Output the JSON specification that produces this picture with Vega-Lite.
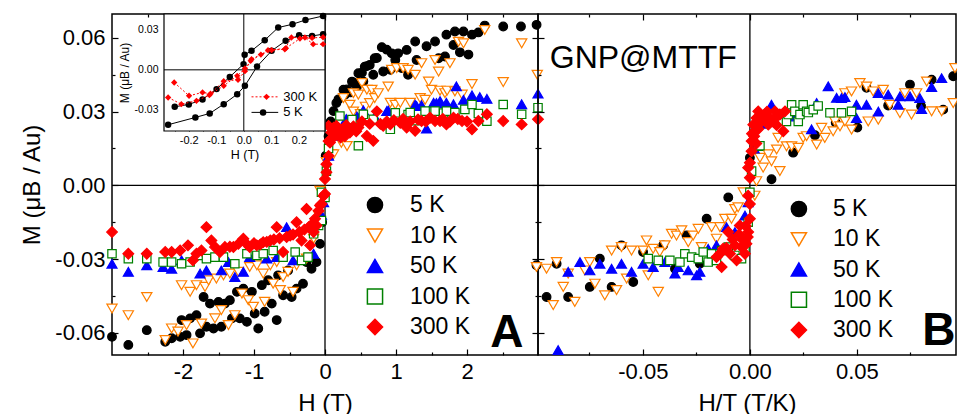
{
"$schema": "https://vega.github.io/schema/vega-lite/v6.json",
"background": "white",
"padding": {"left": 20, "top": 12, "right": 0, "bottom": 0},
"bounds": "flush",
"spacing": 0,
"config": {
 "font": "Liberation Sans",
 "view": {"stroke": "black", "strokeWidth": 1.5},
 "axis": {"domain": false, "grid": false, "tickColor": "black", "tickWidth": 1.2, "labelColor": "black", "titleColor": "black", "labelFontSize": 22, "titleFontSize": 24, "titleFontWeight": "normal", "labelOverlap": false, "labelFlush": false, "minExtent": 0, "labelFont": "Liberation Sans", "titleFont": "Liberation Sans"}
},
"datasets": {
 "a": [
  {"T":"5 K","H":0.01,"M":0.012},{"T":"5 K","H":0.05,"M":0.02},{"T":"5 K","H":0.08,"M":0.026},{"T":"5 K","H":0.12,"M":0.0302},{"T":"5 K","H":0.16,"M":0.0335},{"T":"5 K","H":0.19,"M":0.035},{"T":"5 K","H":0.26,"M":0.0389},{"T":"5 K","H":0.31,"M":0.039},{"T":"5 K","H":0.38,"M":0.0422},{"T":"5 K","H":0.40,"M":0.0417},{"T":"5 K","H":0.47,"M":0.0456},{"T":"5 K","H":0.52,"M":0.0458},{"T":"5 K","H":0.56,"M":0.0483},{"T":"5 K","H":0.59,"M":0.0485},{"T":"5 K","H":0.63,"M":0.049},{"T":"5 K","H":0.70,"M":0.0517},{"T":"5 K","H":0.73,"M":0.0518},{"T":"5 K","H":0.80,"M":0.0562},{"T":"5 K","H":0.87,"M":0.0552},{"T":"5 K","H":0.94,"M":0.0537},{"T":"5 K","H":1.03,"M":0.0537},{"T":"5 K","H":1.15,"M":0.0551},{"T":"5 K","H":1.27,"M":0.0585},{"T":"5 K","H":1.43,"M":0.0566},{"T":"5 K","H":1.55,"M":0.0585},{"T":"5 K","H":1.71,"M":0.0613},{"T":"5 K","H":1.83,"M":0.0626},{"T":"5 K","H":1.95,"M":0.0626},{"T":"5 K","H":2.07,"M":0.0613},{"T":"5 K","H":2.16,"M":0.0622},{"T":"5 K","H":2.25,"M":0.065},{"T":"5 K","H":2.51,"M":0.0646},{"T":"5 K","H":2.76,"M":0.0646},{"T":"5 K","H":2.98,"M":0.0653},
  {"T":"5 K","H":0.28,"M":0.0369},{"T":"5 K","H":0.36,"M":0.0378},{"T":"5 K","H":0.45,"M":0.0402},{"T":"5 K","H":0.54,"M":0.0422},{"T":"5 K","H":0.68,"M":0.045},{"T":"5 K","H":0.82,"M":0.0463},{"T":"5 K","H":0.92,"M":0.047},{"T":"5 K","H":0.99,"M":0.051},{"T":"5 K","H":1.08,"M":0.0477},{"T":"5 K","H":1.17,"M":0.045},{"T":"5 K","H":1.29,"M":0.051},{"T":"5 K","H":1.60,"M":0.0517},{"T":"5 K","H":1.69,"M":0.0524},{"T":"5 K","H":1.81,"M":0.0571},{"T":"5 K","H":1.90,"M":0.0541},{"T":"5 K","H":2.02,"M":0.0532},
  {"T":"5 K","H":-0.04,"M":-0.015},{"T":"5 K","H":-0.07,"M":-0.0238},{"T":"5 K","H":-0.12,"M":-0.0312},{"T":"5 K","H":-0.19,"M":-0.0339},{"T":"5 K","H":-0.26,"M":-0.0312},{"T":"5 K","H":-0.31,"M":-0.04},{"T":"5 K","H":-0.40,"M":-0.042},{"T":"5 K","H":-0.47,"M":-0.0454},{"T":"5 K","H":-0.52,"M":-0.0346},{"T":"5 K","H":-0.59,"M":-0.0447},{"T":"5 K","H":-0.66,"M":-0.0366},{"T":"5 K","H":-0.68,"M":-0.0548},{"T":"5 K","H":-0.75,"M":-0.0481},{"T":"5 K","H":-0.80,"M":-0.0386},{"T":"5 K","H":-0.85,"M":-0.0514},{"T":"5 K","H":-0.89,"M":-0.0406},{"T":"5 K","H":-0.94,"M":-0.0582},{"T":"5 K","H":-0.99,"M":-0.0521},{"T":"5 K","H":-1.03,"M":-0.0433},{"T":"5 K","H":-1.10,"M":-0.0555},{"T":"5 K","H":-1.15,"M":-0.042},{"T":"5 K","H":-1.20,"M":-0.0541},{"T":"5 K","H":-1.24,"M":-0.0433},{"T":"5 K","H":-1.31,"M":-0.0541},{"T":"5 K","H":-1.34,"M":-0.0467},{"T":"5 K","H":-1.41,"M":-0.0481},{"T":"5 K","H":-1.46,"M":-0.0575},{"T":"5 K","H":-1.50,"M":-0.0474},{"T":"5 K","H":-1.57,"M":-0.0582},{"T":"5 K","H":-1.62,"M":-0.0481},{"T":"5 K","H":-1.67,"M":-0.0575},{"T":"5 K","H":-1.71,"M":-0.0454},{"T":"5 K","H":-1.76,"M":-0.0602},{"T":"5 K","H":-1.81,"M":-0.0528},{"T":"5 K","H":-1.90,"M":-0.0541},{"T":"5 K","H":-1.95,"M":-0.0609},{"T":"5 K","H":-2.02,"M":-0.0548},{"T":"5 K","H":-2.04,"M":-0.0616},{"T":"5 K","H":-2.16,"M":-0.0622},{"T":"5 K","H":-2.25,"M":-0.0636},{"T":"5 K","H":-2.51,"M":-0.0589},{"T":"5 K","H":-2.77,"M":-0.0649},{"T":"5 K","H":-3.0,"M":-0.0616},
  {"T":"10 K","H":0.02,"M":0.0095},{"T":"10 K","H":0.09,"M":0.0126},{"T":"10 K","H":0.12,"M":0.0126},{"T":"10 K","H":0.19,"M":0.0227},{"T":"10 K","H":0.23,"M":0.0173},{"T":"10 K","H":0.26,"M":0.0355},{"T":"10 K","H":0.31,"M":0.016},{"T":"10 K","H":0.35,"M":0.0328},{"T":"10 K","H":0.40,"M":0.0375},{"T":"10 K","H":0.40,"M":0.03},{"T":"10 K","H":0.47,"M":0.0369},{"T":"10 K","H":0.50,"M":0.029},{"T":"10 K","H":0.52,"M":0.0416},{"T":"10 K","H":0.57,"M":0.032},{"T":"10 K","H":0.59,"M":0.0389},{"T":"10 K","H":0.63,"M":0.0335},{"T":"10 K","H":0.66,"M":0.0389},{"T":"10 K","H":0.70,"M":0.0355},{"T":"10 K","H":0.75,"M":0.0375},{"T":"10 K","H":0.89,"M":0.0402},{"T":"10 K","H":0.92,"M":0.0336},{"T":"10 K","H":0.94,"M":0.047},{"T":"10 K","H":0.99,"M":0.0328},{"T":"10 K","H":1.01,"M":0.0477},{"T":"10 K","H":1.06,"M":0.0336},{"T":"10 K","H":1.10,"M":0.0477},{"T":"10 K","H":1.17,"M":0.047},{"T":"10 K","H":1.20,"M":0.0336},{"T":"10 K","H":1.27,"M":0.045},{"T":"10 K","H":1.34,"M":0.0355},{"T":"10 K","H":1.36,"M":0.0497},{"T":"10 K","H":1.41,"M":0.0348},{"T":"10 K","H":1.46,"M":0.0422},{"T":"10 K","H":1.50,"M":0.0389},{"T":"10 K","H":1.55,"M":0.051},{"T":"10 K","H":1.60,"M":0.0463},{"T":"10 K","H":1.62,"M":0.0385},{"T":"10 K","H":1.69,"M":0.0375},{"T":"10 K","H":1.72,"M":0.0385},{"T":"10 K","H":1.76,"M":0.0497},{"T":"10 K","H":1.83,"M":0.0382},{"T":"10 K","H":1.88,"M":0.0584},{"T":"10 K","H":1.93,"M":0.0369},{"T":"10 K","H":1.95,"M":0.0578},{"T":"10 K","H":2.07,"M":0.0412},{"T":"10 K","H":2.25,"M":0.0632},{"T":"10 K","H":2.51,"M":0.042},{"T":"10 K","H":2.77,"M":0.0578},{"T":"10 K","H":2.99,"M":0.045},
  {"T":"10 K","H":-3.0,"M":-0.0501},{"T":"10 K","H":-2.77,"M":-0.0528},{"T":"10 K","H":-2.51,"M":-0.0454},{"T":"10 K","H":-2.25,"M":-0.0629},{"T":"10 K","H":-2.16,"M":-0.0582},{"T":"10 K","H":-2.07,"M":-0.0595},{"T":"10 K","H":-2.02,"M":-0.0406},{"T":"10 K","H":-1.95,"M":-0.0568},{"T":"10 K","H":-1.90,"M":-0.0433},{"T":"10 K","H":-1.86,"M":-0.0643},{"T":"10 K","H":-1.81,"M":-0.0406},{"T":"10 K","H":-1.74,"M":-0.0562},{"T":"10 K","H":-1.69,"M":-0.0413},{"T":"10 K","H":-1.64,"M":-0.0386},{"T":"10 K","H":-1.55,"M":-0.0541},{"T":"10 K","H":-1.53,"M":-0.0379},{"T":"10 K","H":-1.46,"M":-0.0507},{"T":"10 K","H":-1.43,"M":-0.0366},{"T":"10 K","H":-1.36,"M":-0.0568},{"T":"10 K","H":-1.34,"M":-0.0359},{"T":"10 K","H":-1.27,"M":-0.0528},{"T":"10 K","H":-1.22,"M":-0.0352},{"T":"10 K","H":-1.17,"M":-0.044},{"T":"10 K","H":-1.08,"M":-0.0467},{"T":"10 K","H":-1.06,"M":-0.0332},{"T":"10 K","H":-1.01,"M":-0.0494},{"T":"10 K","H":-0.96,"M":-0.0325},{"T":"10 K","H":-0.87,"M":-0.0359},{"T":"10 K","H":-0.85,"M":-0.0474},{"T":"10 K","H":-0.77,"M":-0.0325},{"T":"10 K","H":-0.73,"M":-0.04},{"T":"10 K","H":-0.68,"M":-0.0312},{"T":"10 K","H":-0.63,"M":-0.0426},{"T":"10 K","H":-0.59,"M":-0.0373},{"T":"10 K","H":-0.52,"M":-0.0352},{"T":"10 K","H":-0.45,"M":-0.0433},{"T":"10 K","H":-0.40,"M":-0.0325},{"T":"10 K","H":-0.26,"M":-0.0298},{"T":"10 K","H":-0.16,"M":-0.0217},{"T":"10 K","H":-0.09,"M":-0.0123},{"T":"10 K","H":-0.07,"M":-0.0022},
  {"T":"50 K","H":0.05,"M":0.012},{"T":"50 K","H":0.14,"M":0.0207},{"T":"50 K","H":0.16,"M":0.0202},{"T":"50 K","H":0.3,"M":0.027},{"T":"50 K","H":0.45,"M":0.028},{"T":"50 K","H":0.54,"M":0.0305},{"T":"50 K","H":0.7,"M":0.028},{"T":"50 K","H":0.87,"M":0.0302},{"T":"50 K","H":0.89,"M":0.0304},{"T":"50 K","H":1.27,"M":0.0328},{"T":"50 K","H":1.29,"M":0.0323},{"T":"50 K","H":1.36,"M":0.0326},{"T":"50 K","H":1.43,"M":0.0231},{"T":"50 K","H":1.53,"M":0.0336},{"T":"50 K","H":1.57,"M":0.0335},{"T":"50 K","H":1.62,"M":0.0343},{"T":"50 K","H":1.71,"M":0.0336},{"T":"50 K","H":1.81,"M":0.033},{"T":"50 K","H":1.85,"M":0.0403},{"T":"50 K","H":1.95,"M":0.0348},{"T":"50 K","H":2.07,"M":0.0366},{"T":"50 K","H":2.18,"M":0.0359},{"T":"50 K","H":2.28,"M":0.0352},{"T":"50 K","H":2.77,"M":0.033},{"T":"50 K","H":3.0,"M":0.0373},
  {"T":"50 K","H":-3.0,"M":-0.0319},{"T":"50 K","H":-2.77,"M":-0.0352},{"T":"50 K","H":-2.51,"M":-0.0325},{"T":"50 K","H":-2.28,"M":-0.0332},{"T":"50 K","H":-2.16,"M":-0.0339},{"T":"50 K","H":-2.02,"M":-0.0305},{"T":"50 K","H":-1.76,"M":-0.0359},{"T":"50 K","H":-1.67,"M":-0.0346},{"T":"50 K","H":-1.46,"M":-0.0346},{"T":"50 K","H":-1.36,"M":-0.0312},{"T":"50 K","H":-1.27,"M":-0.0373},{"T":"50 K","H":-1.15,"M":-0.0352},{"T":"50 K","H":-1.06,"M":-0.0292},{"T":"50 K","H":-0.82,"M":-0.0298},{"T":"50 K","H":-0.68,"M":-0.0292},{"T":"50 K","H":-0.54,"M":-0.017},{"T":"50 K","H":-0.45,"M":-0.0305},{"T":"50 K","H":-0.16,"M":-0.0278},{"T":"50 K","H":-0.05,"M":-0.012},{"T":"50 K","H":-0.02,"M":-0.0069},
  {"T":"100 K","H":0.02,"M":0.0058},{"T":"100 K","H":0.05,"M":0.015},{"T":"100 K","H":0.21,"M":0.0282},{"T":"100 K","H":0.38,"M":0.0268},{"T":"100 K","H":0.47,"M":0.0161},{"T":"100 K","H":0.54,"M":0.0289},{"T":"100 K","H":0.68,"M":0.0269},{"T":"100 K","H":0.92,"M":0.0228},{"T":"100 K","H":0.99,"M":0.0295},{"T":"100 K","H":1.17,"M":0.0288},{"T":"100 K","H":1.20,"M":0.0296},{"T":"100 K","H":1.27,"M":0.0263},{"T":"100 K","H":1.41,"M":0.0302},{"T":"100 K","H":1.55,"M":0.0302},{"T":"100 K","H":1.67,"M":0.0294},{"T":"100 K","H":1.71,"M":0.0302},{"T":"100 K","H":1.83,"M":0.0296},{"T":"100 K","H":1.97,"M":0.0309},{"T":"100 K","H":2.07,"M":0.0329},{"T":"100 K","H":2.16,"M":0.0292},{"T":"100 K","H":2.28,"M":0.0261},{"T":"100 K","H":2.51,"M":0.0329},{"T":"100 K","H":2.77,"M":0.0289},{"T":"100 K","H":3.0,"M":0.0316},
  {"T":"100 K","H":-3.0,"M":-0.0278},{"T":"100 K","H":-2.77,"M":-0.0298},{"T":"100 K","H":-2.51,"M":-0.0298},{"T":"100 K","H":-2.28,"M":-0.0312},{"T":"100 K","H":-2.16,"M":-0.0312},{"T":"100 K","H":-2.02,"M":-0.0319},{"T":"100 K","H":-1.90,"M":-0.0312},{"T":"100 K","H":-1.78,"M":-0.0285},{"T":"100 K","H":-1.67,"M":-0.0298},{"T":"100 K","H":-1.55,"M":-0.0292},{"T":"100 K","H":-1.43,"M":-0.0292},{"T":"100 K","H":-1.27,"M":-0.0319},{"T":"100 K","H":-1.10,"M":-0.0278},{"T":"100 K","H":-0.96,"M":-0.0285},{"T":"100 K","H":-0.87,"M":-0.0278},{"T":"100 K","H":-0.73,"M":-0.0265},{"T":"100 K","H":-0.59,"M":-0.0292},{"T":"100 K","H":-0.42,"M":-0.0271},{"T":"100 K","H":-0.33,"M":-0.0305},{"T":"100 K","H":-0.24,"M":-0.0292},{"T":"100 K","H":-0.16,"M":-0.0197},{"T":"100 K","H":-0.09,"M":-0.0163},{"T":"100 K","H":-0.05,"M":-0.0143},{"T":"100 K","H":-0.05,"M":-0.0028},{"T":"100 K","H":0.0,"M":-0.0049},
  {"T":"300 K","H":0.0,"M":0.0026},{"T":"300 K","H":0.02,"M":0.0053},{"T":"300 K","H":0.02,"M":0.0086},{"T":"300 K","H":0.05,"M":0.012},{"T":"300 K","H":0.05,"M":0.018},{"T":"300 K","H":0.07,"M":0.0174},{"T":"300 K","H":0.05,"M":0.0242},{"T":"300 K","H":0.09,"M":0.0215},{"T":"300 K","H":0.1,"M":0.019},{"T":"300 K","H":0.12,"M":0.0234},{"T":"300 K","H":0.15,"M":0.0205},{"T":"300 K","H":0.16,"M":0.0242},{"T":"300 K","H":0.2,"M":0.022},{"T":"300 K","H":0.22,"M":0.0195},{"T":"300 K","H":0.26,"M":0.0228},{"T":"300 K","H":0.28,"M":0.02},{"T":"300 K","H":0.3,"M":0.0245},{"T":"300 K","H":0.33,"M":0.023},{"T":"300 K","H":0.35,"M":0.0215},{"T":"300 K","H":0.4,"M":0.024},{"T":"300 K","H":0.44,"M":0.022},{"T":"300 K","H":0.47,"M":0.0235},{"T":"300 K","H":0.52,"M":0.026},{"T":"300 K","H":0.59,"M":0.0201},{"T":"300 K","H":0.63,"M":0.025},{"T":"300 K","H":0.68,"M":0.0181},{"T":"300 K","H":0.73,"M":0.0301},{"T":"300 K","H":0.78,"M":0.025},{"T":"300 K","H":0.82,"M":0.0242},{"T":"300 K","H":0.87,"M":0.026},{"T":"300 K","H":0.92,"M":0.0248},{"T":"300 K","H":0.97,"M":0.0265},{"T":"300 K","H":1.06,"M":0.0255},{"T":"300 K","H":1.10,"M":0.027},{"T":"300 K","H":1.15,"M":0.0235},{"T":"300 K","H":1.2,"M":0.026},{"T":"300 K","H":1.27,"M":0.0222},{"T":"300 K","H":1.31,"M":0.0268},{"T":"300 K","H":1.36,"M":0.0262},{"T":"300 K","H":1.42,"M":0.026},{"T":"300 K","H":1.48,"M":0.0275},{"T":"300 K","H":1.55,"M":0.0262},{"T":"300 K","H":1.62,"M":0.0262},{"T":"300 K","H":1.66,"M":0.027},{"T":"300 K","H":1.71,"M":0.0248},{"T":"300 K","H":1.76,"M":0.026},{"T":"300 K","H":1.81,"M":0.0275},{"T":"300 K","H":1.87,"M":0.027},{"T":"300 K","H":1.93,"M":0.0262},{"T":"300 K","H":2.0,"M":0.026},{"T":"300 K","H":2.07,"M":0.0228},{"T":"300 K","H":2.16,"M":0.0262},{"T":"300 K","H":2.28,"M":0.0289},{"T":"300 K","H":2.51,"M":0.0262},{"T":"300 K","H":2.77,"M":0.0248},{"T":"300 K","H":3.0,"M":0.0269},
  {"T":"300 K","H":-3.0,"M":-0.019},{"T":"300 K","H":-2.77,"M":-0.0278},{"T":"300 K","H":-2.51,"M":-0.0278},{"T":"300 K","H":-2.25,"M":-0.0271},{"T":"300 K","H":-2.16,"M":-0.0271},{"T":"300 K","H":-2.04,"M":-0.0265},{"T":"300 K","H":-1.93,"M":-0.0244},{"T":"300 K","H":-1.86,"M":-0.0305},{"T":"300 K","H":-1.81,"M":-0.0278},{"T":"300 K","H":-1.74,"M":-0.0265},{"T":"300 K","H":-1.67,"M":-0.017},{"T":"300 K","H":-1.60,"M":-0.0224},{"T":"300 K","H":-1.55,"M":-0.0251},{"T":"300 K","H":-1.48,"M":-0.0271},{"T":"300 K","H":-1.41,"M":-0.0251},{"T":"300 K","H":-1.34,"M":-0.025},{"T":"300 K","H":-1.29,"M":-0.0251},{"T":"300 K","H":-1.22,"M":-0.0238},{"T":"300 K","H":-1.15,"M":-0.0217},{"T":"300 K","H":-1.10,"M":-0.024},{"T":"300 K","H":-1.06,"M":-0.0251},{"T":"300 K","H":-1.0,"M":-0.0235},{"T":"300 K","H":-0.96,"M":-0.0244},{"T":"300 K","H":-0.91,"M":-0.024},{"T":"300 K","H":-0.87,"M":-0.0231},{"T":"300 K","H":-0.82,"M":-0.023},{"T":"300 K","H":-0.77,"M":-0.0224},{"T":"300 K","H":-0.72,"M":-0.022},{"T":"300 K","H":-0.68,"M":-0.017},{"T":"300 K","H":-0.64,"M":-0.0215},{"T":"300 K","H":-0.59,"M":-0.0271},{"T":"300 K","H":-0.54,"M":-0.021},{"T":"300 K","H":-0.49,"M":-0.0204},{"T":"300 K","H":-0.45,"M":-0.02},{"T":"300 K","H":-0.40,"M":-0.015},{"T":"300 K","H":-0.36,"M":-0.019},{"T":"300 K","H":-0.33,"M":-0.0224},{"T":"300 K","H":-0.29,"M":-0.018},{"T":"300 K","H":-0.26,"M":-0.0096},{"T":"300 K","H":-0.23,"M":-0.017},{"T":"300 K","H":-0.21,"M":-0.0244},{"T":"300 K","H":-0.19,"M":-0.016},{"T":"300 K","H":-0.16,"M":-0.019},{"T":"300 K","H":-0.14,"M":-0.0136},{"T":"300 K","H":-0.12,"M":-0.0163},{"T":"300 K","H":-0.09,"M":-0.0103},{"T":"300 K","H":-0.07,"M":-0.0082},{"T":"300 K","H":-0.05,"M":-0.0076},{"T":"300 K","H":-0.02,"M":-0.0042},{"T":"300 K","H":0.0,"M":-0.0035}
 ],
 "b": [
  {"T":"5 K","H":0.0,"M":0.0112},{"T":"5 K","H":0.0101,"M":0.0025},{"T":"5 K","H":0.0202,"M":0.0133},{"T":"5 K","H":0.0304,"M":0.0204},{"T":"5 K","H":0.0401,"M":0.0255},{"T":"5 K","H":0.0502,"M":0.0235},{"T":"5 K","H":0.0545,"M":0.0397},{"T":"5 K","H":0.0646,"M":0.0325},{"T":"5 K","H":0.0748,"M":0.041},{"T":"5 K","H":0.080,"M":0.0322},{"T":"5 K","H":0.0849,"M":0.043},{"T":"5 K","H":0.0903,"M":0.0308},{"T":"5 K","H":0.095,"M":0.0444},
  {"T":"5 K","H":-0.0997,"M":-0.0325},{"T":"5 K","H":-0.095,"M":-0.0454},{"T":"5 K","H":-0.0903,"M":-0.0319},{"T":"5 K","H":-0.0849,"M":-0.0454},{"T":"5 K","H":-0.0748,"M":-0.0413},{"T":"5 K","H":-0.0701,"M":-0.0298},{"T":"5 K","H":-0.0646,"M":-0.0413},{"T":"5 K","H":-0.06,"M":-0.0244},{"T":"5 K","H":-0.0545,"M":-0.0393},{"T":"5 K","H":-0.0499,"M":-0.0271},{"T":"5 K","H":-0.0405,"M":-0.0244},{"T":"5 K","H":-0.035,"M":-0.0339},{"T":"5 K","H":-0.0296,"M":-0.0204},{"T":"5 K","H":-0.0234,"M":-0.0319},{"T":"5 K","H":-0.0202,"M":-0.0136},{"T":"5 K","H":-0.0101,"M":-0.0049},
  {"T":"10 K","H":0.0031,"M":0.0017},{"T":"10 K","H":0.0023,"M":0.0153},{"T":"10 K","H":0.0047,"M":0.0112},{"T":"10 K","H":0.0062,"M":0.0072},{"T":"10 K","H":0.0086,"M":0.0126},{"T":"10 K","H":0.0101,"M":0.0098},{"T":"10 K","H":0.0125,"M":0.0146},{"T":"10 K","H":0.0132,"M":0.0193},{"T":"10 K","H":0.014,"M":0.0058},{"T":"10 K","H":0.0171,"M":0.0159},{"T":"10 K","H":0.0195,"M":0.0159},{"T":"10 K","H":0.0226,"M":0.0153},{"T":"10 K","H":0.0249,"M":0.0193},{"T":"10 K","H":0.0265,"M":0.02},{"T":"10 K","H":0.0312,"M":0.0166},{"T":"10 K","H":0.0335,"M":0.0234},{"T":"10 K","H":0.035,"M":0.0193},{"T":"10 K","H":0.0389,"M":0.022},{"T":"10 K","H":0.0397,"M":0.026},{"T":"10 K","H":0.0421,"M":0.024},{"T":"10 K","H":0.0444,"M":0.026},{"T":"10 K","H":0.0444,"M":0.0375},{"T":"10 K","H":0.0475,"M":0.0227},{"T":"10 K","H":0.0475,"M":0.0382},{"T":"10 K","H":0.0514,"M":0.0416},{"T":"10 K","H":0.0545,"M":0.0402},{"T":"10 K","H":0.0553,"M":0.026},{"T":"10 K","H":0.0576,"M":0.0382},{"T":"10 K","H":0.06,"M":0.0267},{"T":"10 K","H":0.0623,"M":0.0389},{"T":"10 K","H":0.0654,"M":0.0328},{"T":"10 K","H":0.0701,"M":0.0294},{"T":"10 K","H":0.0724,"M":0.0375},{"T":"10 K","H":0.0755,"M":0.0288},{"T":"10 K","H":0.0779,"M":0.0375},{"T":"10 K","H":0.0826,"M":0.0422},{"T":"10 K","H":0.0849,"M":0.0301},{"T":"10 K","H":0.0896,"M":0.0301},{"T":"10 K","H":0.095,"M":0.0335},{"T":"10 K","H":0.0958,"M":0.0477},
  {"T":"10 K","H":-0.0997,"M":-0.0332},{"T":"10 K","H":-0.095,"M":-0.0339},{"T":"10 K","H":-0.0919,"M":-0.0487},{"T":"10 K","H":-0.0903,"M":-0.0312},{"T":"10 K","H":-0.0872,"M":-0.0413},{"T":"10 K","H":-0.0849,"M":-0.0359},{"T":"10 K","H":-0.0818,"M":-0.0474},{"T":"10 K","H":-0.0771,"M":-0.0346},{"T":"10 K","H":-0.0748,"M":-0.0312},{"T":"10 K","H":-0.0724,"M":-0.04},{"T":"10 K","H":-0.0678,"M":-0.0447},{"T":"10 K","H":-0.0646,"M":-0.0265},{"T":"10 K","H":-0.0623,"M":-0.0426},{"T":"10 K","H":-0.06,"M":-0.0251},{"T":"10 K","H":-0.0576,"M":-0.0379},{"T":"10 K","H":-0.0553,"M":-0.0265},{"T":"10 K","H":-0.0499,"M":-0.0265},{"T":"10 K","H":-0.0483,"M":-0.0224},{"T":"10 K","H":-0.0475,"M":-0.0366},{"T":"10 K","H":-0.0452,"M":-0.0258},{"T":"10 K","H":-0.0428,"M":-0.0433},{"T":"10 K","H":-0.0421,"M":-0.0271},{"T":"10 K","H":-0.0397,"M":-0.0244},{"T":"10 K","H":-0.0366,"M":-0.0197},{"T":"10 K","H":-0.0343,"M":-0.0204},{"T":"10 K","H":-0.0319,"M":-0.0183},{"T":"10 K","H":-0.0288,"M":-0.0231},{"T":"10 K","H":-0.0265,"M":-0.0204},{"T":"10 K","H":-0.0241,"M":-0.0177},{"T":"10 K","H":-0.0226,"M":-0.0251},{"T":"10 K","H":-0.0179,"M":-0.017},{"T":"10 K","H":-0.0156,"M":-0.0217},{"T":"10 K","H":-0.014,"M":-0.017},{"T":"10 K","H":-0.0117,"M":-0.0136},{"T":"10 K","H":-0.0086,"M":-0.0136},{"T":"10 K","H":-0.007,"M":-0.0096},{"T":"10 K","H":-0.0055,"M":-0.0089},{"T":"10 K","H":-0.0031,"M":-0.0028},{"T":"10 K","H":0.0023,"M":-0.0042},
  {"T":"50 K","H":0.002,"M":0.015},{"T":"50 K","H":0.005,"M":0.025},{"T":"50 K","H":0.0101,"M":0.0328},{"T":"50 K","H":0.015,"M":0.029},{"T":"50 K","H":0.02,"M":0.028},{"T":"50 K","H":0.0257,"M":0.0301},{"T":"50 K","H":0.0288,"M":0.0228},{"T":"50 K","H":0.0312,"M":0.0335},{"T":"50 K","H":0.0366,"M":0.0403},{"T":"50 K","H":0.0405,"M":0.0356},{"T":"50 K","H":0.0428,"M":0.0355},{"T":"50 K","H":0.0444,"M":0.0359},{"T":"50 K","H":0.0498,"M":0.0328},{"T":"50 K","H":0.0498,"M":0.0274},{"T":"50 K","H":0.0545,"M":0.0328},{"T":"50 K","H":0.06,"M":0.0375},{"T":"50 K","H":0.06,"M":0.03},{"T":"50 K","H":0.0646,"M":0.0369},{"T":"50 K","H":0.0693,"M":0.0328},{"T":"50 K","H":0.0701,"M":0.0362},{"T":"50 K","H":0.0748,"M":0.0362},{"T":"50 K","H":0.0794,"M":0.0355},{"T":"50 K","H":0.0802,"M":0.031},{"T":"50 K","H":0.0849,"M":0.04},{"T":"50 K","H":0.0896,"M":0.0436},
  {"T":"50 K","H":-0.0896,"M":-0.067},{"T":"50 K","H":-0.0849,"M":-0.0352},{"T":"50 K","H":-0.0794,"M":-0.0312},{"T":"50 K","H":-0.0748,"M":-0.0346},{"T":"50 K","H":-0.0701,"M":-0.0319},{"T":"50 K","H":-0.0646,"M":-0.0339},{"T":"50 K","H":-0.06,"M":-0.0319},{"T":"50 K","H":-0.0553,"M":-0.0352},{"T":"50 K","H":-0.0499,"M":-0.0319},{"T":"50 K","H":-0.0452,"M":-0.0332},{"T":"50 K","H":-0.0397,"M":-0.0312},{"T":"50 K","H":-0.035,"M":-0.0359},{"T":"50 K","H":-0.0335,"M":-0.0332},{"T":"50 K","H":-0.0288,"M":-0.0346},{"T":"50 K","H":-0.0249,"M":-0.0366},{"T":"50 K","H":-0.0234,"M":-0.0352},{"T":"50 K","H":-0.0195,"M":-0.0258},{"T":"50 K","H":-0.0156,"M":-0.0244},{"T":"50 K","H":-0.0109,"M":-0.017},{"T":"50 K","H":-0.007,"M":-0.019},{"T":"50 K","H":-0.0023,"M":-0.0123},{"T":"50 K","H":-0.0008,"M":-0.0069},
  {"T":"100 K","H":0.0008,"M":0.0058},{"T":"100 K","H":0.0039,"M":0.0159},{"T":"100 K","H":0.0047,"M":0.0161},{"T":"100 K","H":0.0171,"M":0.026},{"T":"100 K","H":0.0179,"M":0.0288},{"T":"100 K","H":0.0195,"M":0.0328},{"T":"100 K","H":0.021,"M":0.0301},{"T":"100 K","H":0.0226,"M":0.026},{"T":"100 K","H":0.0234,"M":0.0288},{"T":"100 K","H":0.0249,"M":0.0328},{"T":"100 K","H":0.0265,"M":0.0301},{"T":"100 K","H":0.0273,"M":0.0296},{"T":"100 K","H":0.0296,"M":0.0308},{"T":"100 K","H":0.0319,"M":0.0323},{"T":"100 K","H":0.0374,"M":0.0295},{"T":"100 K","H":0.0428,"M":0.0295},{"T":"100 K","H":0.0475,"M":0.0301},
  {"T":"100 K","H":-0.0475,"M":-0.0298},{"T":"100 K","H":-0.0428,"M":-0.0305},{"T":"100 K","H":-0.0374,"M":-0.0305},{"T":"100 K","H":-0.0327,"M":-0.0312},{"T":"100 K","H":-0.0304,"M":-0.0278},{"T":"100 K","H":-0.0272,"M":-0.0292},{"T":"100 K","H":-0.0241,"M":-0.0298},{"T":"100 K","H":-0.0218,"M":-0.0271},{"T":"100 K","H":-0.0195,"M":-0.0312},{"T":"100 K","H":-0.0179,"M":-0.0278},{"T":"100 K","H":-0.0156,"M":-0.0305},{"T":"100 K","H":-0.0132,"M":-0.0265},{"T":"100 K","H":-0.0101,"M":-0.0251},{"T":"100 K","H":-0.007,"M":-0.0285},{"T":"100 K","H":-0.0039,"M":-0.0298},{"T":"100 K","H":-0.0023,"M":-0.0258},{"T":"100 K","H":-0.0008,"M":-0.015},{"T":"100 K","H":0.0,"M":-0.0028},
  {"T":"300 K","H":0.0,"M":0.0031},{"T":"300 K","H":0.0,"M":0.0092},{"T":"300 K","H":-0.0008,"M":0.0072},{"T":"300 K","H":0.0008,"M":0.0139},{"T":"300 K","H":0.0008,"M":0.018},{"T":"300 K","H":0.001,"M":0.021},{"T":"300 K","H":0.0016,"M":0.0247},{"T":"300 K","H":0.002,"M":0.02},{"T":"300 K","H":0.0023,"M":0.022},{"T":"300 K","H":0.003,"M":0.017},{"T":"300 K","H":0.0031,"M":0.0274},{"T":"300 K","H":0.0039,"M":0.0301},{"T":"300 K","H":0.004,"M":0.023},{"T":"300 K","H":0.0055,"M":0.026},{"T":"300 K","H":0.006,"M":0.027},{"T":"300 K","H":0.007,"M":0.0288},{"T":"300 K","H":0.008,"M":0.03},{"T":"300 K","H":0.0086,"M":0.0247},{"T":"300 K","H":0.0093,"M":0.0274},{"T":"300 K","H":0.0109,"M":0.026},{"T":"300 K","H":0.0117,"M":0.0301},{"T":"300 K","H":0.012,"M":0.0275},{"T":"300 K","H":0.0125,"M":0.0245},{"T":"300 K","H":0.014,"M":0.0288},{"T":"300 K","H":0.0156,"M":0.022},{"T":"300 K","H":0.0164,"M":0.0301},
  {"T":"300 K","H":-0.0156,"M":-0.0292},{"T":"300 K","H":-0.014,"M":-0.0278},{"T":"300 K","H":-0.0132,"M":-0.0332},{"T":"300 K","H":-0.0125,"M":-0.0258},{"T":"300 K","H":-0.011,"M":-0.0255},{"T":"300 K","H":-0.0101,"M":-0.019},{"T":"300 K","H":-0.0093,"M":-0.0278},{"T":"300 K","H":-0.008,"M":-0.022},{"T":"300 K","H":-0.007,"M":-0.0244},{"T":"300 K","H":-0.0062,"M":-0.0305},{"T":"300 K","H":-0.005,"M":-0.02},{"T":"300 K","H":-0.0047,"M":-0.0163},{"T":"300 K","H":-0.0039,"M":-0.0251},{"T":"300 K","H":-0.0031,"M":-0.0224},{"T":"300 K","H":-0.0023,"M":-0.0278},{"T":"300 K","H":-0.002,"M":-0.0165},{"T":"300 K","H":-0.0016,"M":-0.0238},{"T":"300 K","H":-0.001,"M":-0.021},{"T":"300 K","H":-0.0008,"M":-0.019},{"T":"300 K","H":0.0,"M":-0.0136},{"T":"300 K","H":0.0,"M":-0.0076},{"T":"300 K","H":-0.0008,"M":-0.0042}
 ],
 "inset": [
  {"T":"5 K","b":"d","H":-0.251,"M":-0.0278},{"T":"5 K","b":"d","H":-0.2,"M":-0.026},{"T":"5 K","b":"d","H":-0.15,"M":-0.0223},{"T":"5 K","b":"d","H":-0.099,"M":-0.0145},{"T":"5 K","b":"d","H":-0.051,"M":-0.0053},{"T":"5 K","b":"d","H":-0.001,"M":0.0043},{"T":"5 K","b":"d","H":0.003,"M":0.0113},{"T":"5 K","b":"d","H":0.028,"M":0.0143},{"T":"5 K","b":"d","H":0.076,"M":0.0223},{"T":"5 K","b":"d","H":0.125,"M":0.0318},{"T":"5 K","b":"d","H":0.177,"M":0.0343},{"T":"5 K","b":"d","H":0.224,"M":0.0375},{"T":"5 K","b":"d","H":0.288,"M":0.0405},
  {"T":"5 K","b":"u","H":-0.275,"M":-0.0413},{"T":"5 K","b":"u","H":-0.176,"M":-0.0358},{"T":"5 K","b":"u","H":-0.124,"M":-0.0328},{"T":"5 K","b":"u","H":-0.073,"M":-0.0258},{"T":"5 K","b":"u","H":-0.024,"M":-0.0183},{"T":"5 K","b":"u","H":0.004,"M":-0.012},{"T":"5 K","b":"u","H":0.048,"M":0.0025},{"T":"5 K","b":"u","H":0.101,"M":0.0143},{"T":"5 K","b":"u","H":0.152,"M":0.0218},{"T":"5 K","b":"u","H":0.201,"M":0.026},{"T":"5 K","b":"u","H":0.248,"M":0.0255},{"T":"5 K","b":"u","H":0.288,"M":0.0268},
  {"T":"300 K","b":"d","H":0.288,"M":0.0245},{"T":"300 K","b":"d","H":0.248,"M":0.024},{"T":"300 K","b":"d","H":0.204,"M":0.0235},{"T":"300 K","b":"d","H":0.153,"M":0.0163},{"T":"300 K","b":"d","H":0.101,"M":0.0148},{"T":"300 K","b":"d","H":0.062,"M":0.0115},{"T":"300 K","b":"d","H":0.028,"M":0.008},{"T":"300 K","b":"d","H":0.004,"M":-0.001},{"T":"300 K","b":"d","H":-0.021,"M":-0.0075},{"T":"300 K","b":"d","H":-0.073,"M":-0.0085},{"T":"300 K","b":"d","H":-0.121,"M":-0.018},{"T":"300 K","b":"d","H":-0.15,"M":-0.017},{"T":"300 K","b":"d","H":-0.199,"M":-0.0195},{"T":"300 K","b":"d","H":-0.253,"M":-0.0095},
  {"T":"300 K","b":"u","H":-0.275,"M":-0.0208},{"T":"300 K","b":"u","H":-0.227,"M":-0.0258},{"T":"300 K","b":"u","H":-0.172,"M":-0.0233},{"T":"300 K","b":"u","H":-0.125,"M":-0.019},{"T":"300 K","b":"u","H":-0.073,"M":-0.012},{"T":"300 K","b":"u","H":-0.024,"M":-0.0045},{"T":"300 K","b":"u","H":0.004,"M":0.001},{"T":"300 K","b":"u","H":0.025,"M":0.0068},{"T":"300 K","b":"u","H":0.088,"M":0.0148},{"T":"300 K","b":"u","H":0.149,"M":0.0155},{"T":"300 K","b":"u","H":0.173,"M":0.0243},{"T":"300 K","b":"u","H":0.222,"M":0.0243},{"T":"300 K","b":"u","H":0.252,"M":0.0193},{"T":"300 K","b":"u","H":0.288,"M":0.0193}
 ],
 "temps": [{"T":"5 K"},{"T":"10 K"},{"T":"50 K"},{"T":"100 K"},{"T":"300 K"}]
},
"hconcat": [
 {
  "width": 426, "height": 341,
  "layer": [
   {
    "layer": [
     {"data": {"values": [{}]}, "mark": {"type": "rule", "color": "black", "strokeWidth": 1.3},
      "encoding": {"y": {"datum": 0, "type": "quantitative", "axis": {"orient": "right", "title": null, "labels": false, "values": [-0.06,-0.045,-0.03,-0.015,0,0.015,0.03,0.045,0.06], "tickSize": {"condition": {"test": "indexof([-0.06,-0.03,0,0.03,0.06], datum.value) >= 0", "value": -6}, "value": -3}}}}},
     {"data": {"values": [{}]}, "mark": {"type": "rule", "color": "black", "strokeWidth": 1.3},
      "encoding": {"x": {"datum": 0, "type": "quantitative", "axis": {"orient": "top", "title": null, "labels": false, "values": [-2.5,-2,-1.5,-1,-0.5,0,0.5,1,1.5,2,2.5], "tickSize": {"condition": {"test": "datum.value % 1 === 0", "value": -6}, "value": -3}}}}},
     {"data": {"name": "a"}, "mark": {"type": "point", "filled": true, "strokeWidth": 1.2, "opacity": 1},
      "encoding": {
       "x": {"field": "H", "type": "quantitative", "scale": {"domain": [-3, 3], "nice": false, "zero": false},
        "axis": {"orient": "bottom", "title": "H (T)", "values": [-2.5,-2,-1.5,-1,-0.5,0,0.5,1,1.5,2,2.5], "labelExpr": "datum.value % 1 === 0 ? toString(datum.value) : ''", "tickSize": {"condition": {"test": "datum.value % 1 === 0", "value": -6}, "value": -3}, "labelPadding": 12, "titlePadding": 6}},
       "y": {"field": "M", "type": "quantitative", "scale": {"domain": [-0.069, 0.0697], "nice": false, "zero": false},
        "axis": {"orient": "left", "title": "M (μB / Au)", "values": [-0.06,-0.045,-0.03,-0.015,0,0.015,0.03,0.045,0.06], "labelExpr": "indexof([-0.06,-0.03,0,0.03,0.06], datum.value) >= 0 ? replace(format(datum.value, '.2f'), '\u2212', '-') : ''", "tickSize": {"condition": {"test": "indexof([-0.06,-0.03,0,0.03,0.06], datum.value) >= 0", "value": -6}, "value": -3}, "labelPadding": 13, "titlePadding": 10}},
       "shape": {"field": "T", "type": "nominal", "scale": {"domain": ["5 K","10 K","50 K","100 K","300 K"], "range": ["circle","triangle-down","triangle-up","square","diamond"]}, "legend": null},
       "fill": {"field": "T", "type": "nominal", "scale": {"domain": ["5 K","10 K","50 K","100 K","300 K"], "range": ["#000000","#ffffff","#0000ff","#ffffff","#ff0000"]}, "legend": null},
       "stroke": {"field": "T", "type": "nominal", "scale": {"domain": ["5 K","10 K","50 K","100 K","300 K"], "range": ["#000000","#ff8000","#0000ff","#008000","#ff0000"]}, "legend": null},
       "size": {"field": "T", "type": "nominal", "scale": {"type": "ordinal", "domain": ["5 K","10 K","50 K","100 K","300 K"], "range": [75, 105, 100, 70, 115]}, "legend": null}
      }},
     {"data": {"values": [{}]}, "mark": {"type": "text", "text": "A", "fontSize": 46, "fontWeight": "bold", "align": "center", "baseline": "alphabetic", "color": "black"},
      "encoding": {"x": {"datum": 2.56, "type": "quantitative", "axis": null}, "y": {"datum": -0.0656, "type": "quantitative", "axis": null}}}
    ],
    "resolve": {"axis": {"x": "independent", "y": "independent"}}
   },
   {
    "layer": [
     {"data": {"values": [{}]}, "mark": {"type": "rect", "fill": "white", "stroke": "black", "strokeWidth": 1.2},
      "encoding": {
       "x": {"datum": -0.29, "type": "quantitative", "scale": {"domain": [-0.29, 0.295], "range": [52, 213], "nice": false, "zero": false},
        "axis": {"orient": "bottom", "offset": -224, "title": "H (T)", "values": [-0.25,-0.2,-0.15,-0.1,-0.05,0,0.05,0.1,0.15,0.2,0.25], "labelExpr": "indexof([-0.2,-0.1,0,0.1,0.2], datum.value) >= 0 ? replace(format(datum.value, '.1f'), '\u2212', '-') : ''", "tickSize": {"condition": {"test": "indexof([-0.2,-0.1,0,0.1,0.2], datum.value) >= 0", "value": -4}, "value": -2}, "labelFontSize": 11, "titleFontSize": 12.5, "labelPadding": 7, "titlePadding": 1, "tickWidth": 1}},
       "x2": {"datum": 0.295},
       "y": {"datum": -0.046, "type": "quantitative", "scale": {"domain": [-0.046, 0.042], "range": [117, 0], "nice": false, "zero": false},
        "axis": {"orient": "left", "offset": -52, "title": "M (μB / Au)", "values": [-0.045,-0.03,-0.015,0,0.015,0.03], "labelExpr": "indexof([-0.03,0,0.03], datum.value) >= 0 ? replace(format(datum.value, '.2f'), '\u2212', '-') : ''", "tickSize": {"condition": {"test": "indexof([-0.03,0,0.03], datum.value) >= 0", "value": -4}, "value": -2}, "labelFontSize": 10.5, "titleFontSize": 12, "labelPadding": 10, "titlePadding": 3, "tickWidth": 1}},
       "y2": {"datum": 0.042}}},
     {"data": {"values": [{}]}, "mark": {"type": "rule", "color": "black", "strokeWidth": 1},
      "encoding": {"x": {"datum": 0, "type": "quantitative"}, "y": {"datum": -0.046, "type": "quantitative"}, "y2": {"datum": 0.042}}},
     {"data": {"values": [{}]}, "mark": {"type": "rule", "color": "black", "strokeWidth": 1},
      "encoding": {"y": {"datum": 0, "type": "quantitative"}, "x": {"datum": -0.29, "type": "quantitative"}, "x2": {"datum": 0.295}}},
     {"data": {"name": "inset"}, "transform": [{"filter": "datum.T === '5 K'"}], "mark": {"type": "line", "color": "black", "strokeWidth": 1},
      "encoding": {"x": {"field": "H", "type": "quantitative"}, "y": {"field": "M", "type": "quantitative"}, "detail": {"field": "b"}}},
     {"data": {"name": "inset"}, "transform": [{"filter": "datum.T === '5 K'"}], "mark": {"type": "point", "shape": "circle", "filled": true, "color": "black", "size": 42, "opacity": 1},
      "encoding": {"x": {"field": "H", "type": "quantitative"}, "y": {"field": "M", "type": "quantitative"}}},
     {"data": {"name": "inset"}, "transform": [{"filter": "datum.T === '300 K'"}], "mark": {"type": "line", "color": "#ff0000", "strokeWidth": 1, "strokeDash": [2, 2]},
      "encoding": {"x": {"field": "H", "type": "quantitative"}, "y": {"field": "M", "type": "quantitative"}, "detail": {"field": "b"}}},
     {"data": {"name": "inset"}, "transform": [{"filter": "datum.T === '300 K'"}], "mark": {"type": "point", "shape": "diamond", "filled": true, "color": "#ff0000", "size": 40, "opacity": 1},
      "encoding": {"x": {"field": "H", "type": "quantitative"}, "y": {"field": "M", "type": "quantitative"}}},
     {"data": {"values": [{}]}, "mark": {"type": "rule", "color": "#ff0000", "strokeWidth": 1, "strokeDash": [2, 2]},
      "encoding": {"x": {"datum": 0.028, "type": "quantitative"}, "x2": {"datum": 0.125}, "y": {"datum": -0.0203, "type": "quantitative"}}},
     {"data": {"values": [{}]}, "mark": {"type": "point", "shape": "diamond", "filled": true, "color": "#ff0000", "size": 40, "opacity": 1},
      "encoding": {"x": {"datum": 0.0825, "type": "quantitative"}, "y": {"datum": -0.0203, "type": "quantitative"}}},
     {"data": {"values": [{}]}, "mark": {"type": "text", "text": "300 K", "fontSize": 13, "align": "left", "baseline": "middle", "color": "black"},
      "encoding": {"x": {"datum": 0.143, "type": "quantitative"}, "y": {"datum": -0.0203, "type": "quantitative"}}},
     {"data": {"values": [{}]}, "mark": {"type": "rule", "color": "black", "strokeWidth": 1},
      "encoding": {"x": {"datum": 0.028, "type": "quantitative"}, "x2": {"datum": 0.125}, "y": {"datum": -0.032, "type": "quantitative"}}},
     {"data": {"values": [{}]}, "mark": {"type": "point", "shape": "circle", "filled": true, "color": "black", "size": 42, "opacity": 1},
      "encoding": {"x": {"datum": 0.07, "type": "quantitative"}, "y": {"datum": -0.032, "type": "quantitative"}}},
     {"data": {"values": [{}]}, "mark": {"type": "text", "text": "5 K", "fontSize": 13, "align": "left", "baseline": "middle", "color": "black"},
      "encoding": {"x": {"datum": 0.143, "type": "quantitative"}, "y": {"datum": -0.032, "type": "quantitative"}}}
    ]
   },
   {
    "data": {"name": "temps"},
    "layer": [
     {"mark": {"type": "point", "filled": true, "strokeWidth": 1.5, "opacity": 1, "size": 230},
      "encoding": {
       "x": {"datum": 0.704, "type": "quantitative", "scale": {"domain": [-3, 3], "nice": false, "zero": false}, "axis": null},
       "y": {"field": "T", "type": "nominal", "scale": {"type": "point", "domain": ["5 K","10 K","50 K","100 K","300 K"], "range": [191, 313], "padding": 0}, "axis": null},
       "shape": {"field": "T", "type": "nominal", "legend": null},
       "fill": {"field": "T", "type": "nominal", "legend": null},
       "stroke": {"field": "T", "type": "nominal", "legend": null}}},
     {"mark": {"type": "text", "align": "left", "baseline": "middle", "fontSize": 23, "color": "black"},
      "encoding": {"x": {"datum": 1.197, "type": "quantitative"}, "y": {"field": "T", "type": "nominal"}, "text": {"field": "T"}}}
    ]
   }
  ],
  "resolve": {"scale": {"x": "independent", "y": "independent"}}
 },
 {
  "width": 418, "height": 341,
  "layer": [
   {
    "layer": [
     {"data": {"values": [{}]}, "mark": {"type": "rule", "color": "black", "strokeWidth": 1.3},
      "encoding": {"y": {"datum": 0, "type": "quantitative", "axis": null}}},
     {"data": {"values": [{}]}, "mark": {"type": "rule", "color": "black", "strokeWidth": 1.3},
      "encoding": {"x": {"datum": 0, "type": "quantitative", "axis": {"orient": "top", "title": null, "labels": false, "values": [-0.075,-0.05,-0.025,0,0.025,0.05,0.075], "tickSize": {"condition": {"test": "indexof([-0.05,0,0.05], datum.value) >= 0", "value": -6}, "value": -3}}}}},
     {"data": {"name": "b"}, "mark": {"type": "point", "filled": true, "strokeWidth": 1.2, "opacity": 1},
      "encoding": {
       "x": {"field": "H", "type": "quantitative", "scale": {"domain": [-0.099, 0.0963], "nice": false, "zero": false},
        "axis": {"orient": "bottom", "title": "H/T (T/K)", "values": [-0.075,-0.05,-0.025,0,0.025,0.05,0.075], "labelExpr": "indexof([-0.05,0,0.05], datum.value) >= 0 ? replace(format(datum.value, '.2f'), '\u2212', '-') : ''", "tickSize": {"condition": {"test": "indexof([-0.05,0,0.05], datum.value) >= 0", "value": -6}, "value": -3}, "labelPadding": 12, "titlePadding": 6}},
       "y": {"field": "M", "type": "quantitative", "scale": {"domain": [-0.069, 0.0697], "nice": false, "zero": false},
        "axis": {"orient": "left", "title": null, "labels": false, "values": [-0.06,-0.045,-0.03,-0.015,0,0.015,0.03,0.045,0.06], "tickSize": {"condition": {"test": "indexof([-0.06,-0.03,0,0.03,0.06], datum.value) >= 0", "value": -6}, "value": -3}}},
       "shape": {"field": "T", "type": "nominal", "scale": {"domain": ["5 K","10 K","50 K","100 K","300 K"], "range": ["circle","triangle-down","triangle-up","square","diamond"]}, "legend": null},
       "fill": {"field": "T", "type": "nominal", "scale": {"domain": ["5 K","10 K","50 K","100 K","300 K"], "range": ["#000000","#ffffff","#0000ff","#ffffff","#ff0000"]}, "legend": null},
       "stroke": {"field": "T", "type": "nominal", "scale": {"domain": ["5 K","10 K","50 K","100 K","300 K"], "range": ["#000000","#ff8000","#0000ff","#008000","#ff0000"]}, "legend": null},
       "size": {"field": "T", "type": "nominal", "scale": {"type": "ordinal", "domain": ["5 K","10 K","50 K","100 K","300 K"], "range": [75, 105, 100, 70, 115]}, "legend": null}
      }},
     {"data": {"values": [{}]}, "mark": {"type": "text", "text": "GNP@MTTF", "fontSize": 32, "align": "left", "baseline": "alphabetic", "color": "black"},
      "encoding": {"x": {"datum": -0.0935, "type": "quantitative", "axis": null}, "y": {"datum": 0.0478, "type": "quantitative", "axis": null}}},
     {"data": {"values": [{}]}, "mark": {"type": "text", "text": "B", "fontSize": 46, "fontWeight": "bold", "align": "center", "baseline": "alphabetic", "color": "black"},
      "encoding": {"x": {"datum": 0.0883, "type": "quantitative", "axis": null}, "y": {"datum": -0.0648, "type": "quantitative", "axis": null}}}
    ],
    "resolve": {"axis": {"x": "independent", "y": "independent"}}
   },
   {
    "data": {"name": "temps"},
    "layer": [
     {"mark": {"type": "point", "filled": true, "strokeWidth": 1.5, "opacity": 1, "size": 230},
      "encoding": {
       "x": {"datum": 0.0229, "type": "quantitative", "scale": {"domain": [-0.099, 0.0963], "nice": false, "zero": false}, "axis": null},
       "y": {"field": "T", "type": "nominal", "scale": {"type": "point", "domain": ["5 K","10 K","50 K","100 K","300 K"], "range": [195, 316], "padding": 0}, "axis": null},
       "shape": {"field": "T", "type": "nominal", "legend": null},
       "fill": {"field": "T", "type": "nominal", "legend": null},
       "stroke": {"field": "T", "type": "nominal", "legend": null}}},
     {"mark": {"type": "text", "align": "left", "baseline": "middle", "fontSize": 23, "color": "black"},
      "encoding": {"x": {"datum": 0.0388, "type": "quantitative"}, "y": {"field": "T", "type": "nominal"}, "text": {"field": "T"}}}
    ]
   }
  ],
  "resolve": {"scale": {"x": "independent", "y": "independent"}}
 }
],
"resolve": {"scale": {"x": "independent", "y": "independent", "shape": "independent", "fill": "independent", "stroke": "independent", "size": "independent"}}
}
